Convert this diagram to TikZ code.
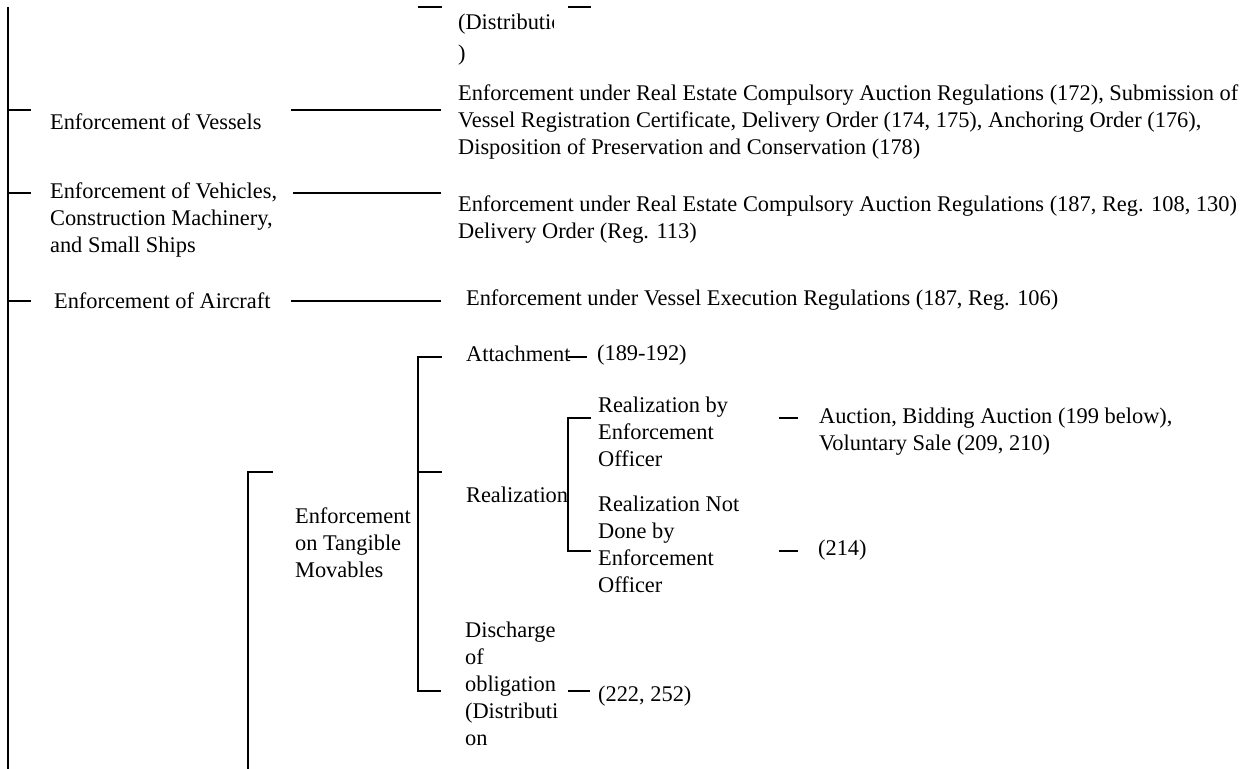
\documentclass[tikz,border=0pt]{standalone}
\usepackage{fontspec}
\setmainfont{Liberation Serif}
\begin{document}
\begin{tikzpicture}[x=0.5pt,y=-0.5pt,line width=1.1pt,
	txt/.style={anchor=west,inner sep=0pt,align=left,font=\fontsize{11.2}{13.5}\selectfont}]
	\useasboundingbox (0,0) rectangle (1244,769);
	% ends of the branches cut off at the top
	\coordinate (C-a) at (418,7); \coordinate (C-b) at (442,7);
	\coordinate (C-c) at (568,7); \coordinate (C-d) at (591,7);
	\draw (C-a) -- (C-b) (C-c) -- (C-d);
	\begin{scope}
		\clip (440,0) rectangle (553,80);
		\node[txt] (dist) at (457,40) {(Distribution\\[2pt])};
	\end{scope}
	% main trunk
	\coordinate (T-top) at (8,7);
	\coordinate (T-bot) at (8,769);
	\draw (T-top) -- (T-bot);
	\foreach \n/\y/\a in {vessel/110/291,vehicle/193/293,aircraft/301/291}{%
		\coordinate (T-\n) at (8,\y);
		\coordinate (t-\n) at (31,\y);
		\coordinate (L-\n) at (\a,\y);
		\coordinate (R-\n) at (441,\y);
		\draw (T-\n) -- (t-\n) (L-\n) -- (R-\n);
	}
	\node[txt] (vessel) at (49,122) {Enforcement of Vessels};
	\node[txt] (vessel-r) at (457,122) {Enforcement under Real Estate Compulsory Auction Regulations (172), Submission of\\Vessel Registration Certificate, Delivery Order (174, 175), Anchoring Order (176),\\Disposition of Preservation and Conservation (178)};
	\node[txt] (vehicle) at (49,220) {Enforcement of Vehicles,\\Construction Machinery,\\and Small Ships};
	\node[txt] (vehicle-r) at (457,220) {Enforcement under Real Estate Compulsory Auction Regulations (187, Reg. 108, 130)\\Delivery Order (Reg. 113)};
	\node[txt] (aircraft) at (53,301) {Enforcement of Aircraft};
	\node[txt] (aircraft-r) at (465,300) {Enforcement under Vessel Execution Regulations (187, Reg. 106)};
	% tangible movables
	\coordinate (M-a) at (273,472); \coordinate (M-b) at (248,472); \coordinate (M-c) at (248,769);
	\draw (M-a) -- (M-b) -- (M-c);
	\node[txt] (movable) at (294,543) {Enforcement\\on Tangible\\Movables};
	\coordinate (S-a) at (442,357); \coordinate (S-b) at (418,357);
	\coordinate (S-c) at (418,691); \coordinate (S-d) at (441,691);
	\coordinate (S-e) at (418,472); \coordinate (S-f) at (442,472);
	\draw (S-a) -- (S-b) -- (S-c) -- (S-d) (S-e) -- (S-f);
	\node[txt] (attach) at (465,354) {Attachment};
	\node[txt] (attach-r) at (596,355) {(189-192)};
	\coordinate (A-a) at (568,357); \coordinate (A-b) at (587,357);
	\draw (A-a) -- (A-b);
	\node[txt] (realize) at (465,495) {Realization};
	\coordinate (Z-a) at (591,418); \coordinate (Z-b) at (568,418);
	\coordinate (Z-c) at (568,551); \coordinate (Z-d) at (591,551);
	\draw (Z-a) -- (Z-b) -- (Z-c) -- (Z-d);
	\node[txt] (byofficer) at (597,432) {Realization by\\Enforcement\\Officer};
	\node[txt] (notofficer) at (597,544) {Realization Not\\Done by\\Enforcement\\Officer};
	\foreach \n/\y in {by/418,not/551}{%
		\coordinate (D-\n) at (779,\y);
		\coordinate (d-\n) at (798,\y);
		\draw (D-\n) -- (d-\n);
	}
	\node[txt] (auction) at (818,432) {Auction, Bidding Auction (199 below),\\Voluntary Sale (209, 210)};
	\node[txt] (notofficer-r) at (817,550) {(214)};
	\node[txt] (discharge) at (464,684) {Discharge\\of\\obligation\\(Distributi\\on};
	\coordinate (Q-a) at (568,691); \coordinate (Q-b) at (590,691);
	\draw (Q-a) -- (Q-b);
	\node[txt] (discharge-r) at (597,696) {(222, 252)};
\end{tikzpicture}
\end{document}
